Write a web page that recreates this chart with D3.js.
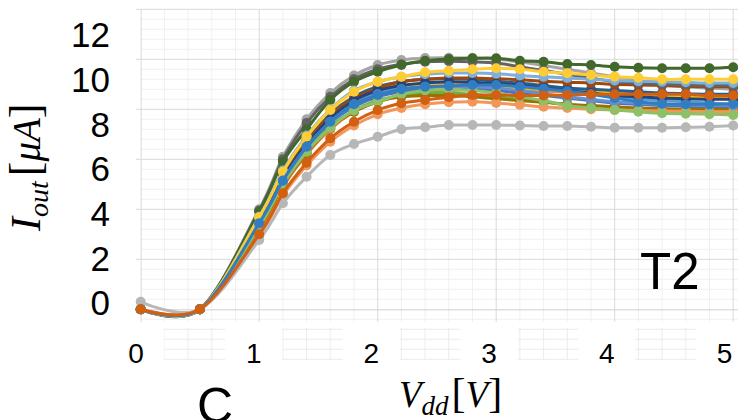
<!DOCTYPE html>
<html>
<head>
<meta charset="utf-8">
<script src="https://cdn.jsdelivr.net/npm/d3@7"></script>
<style>
  body { margin: 0; background: #fff; }
  svg { display: block; }
</style>
</head>
<body>
<svg id="chart" width="738" height="420"></svg>
<script>
// Vdd sweep points (V)
const vdd = [0, 0.5, 1.0, 1.2, 1.4, 1.6, 1.8, 2.0, 2.2, 2.4, 2.6, 2.8, 3.0, 3.2, 3.4, 3.6, 3.8, 4.0, 4.2, 4.4, 4.6, 4.8, 5.0];

// Iout (uA), one array per curve, in drawing order
const iout01 = [0, 0, 3.45, 5.2, 6.6, 7.6, 8.3, 8.7, 8.9, 9.0, 9.05, 9.05, 9.0, 8.9, 8.8, 8.7, 8.6, 8.5, 8.4, 8.35, 8.3, 8.25, 8.2];
const iout02 = [0, 0, 3.2, 4.9, 6.2, 7.2, 7.9, 8.3, 8.55, 8.7, 8.75, 8.78, 8.78, 8.75, 8.72, 8.7, 8.68, 8.65, 8.62, 8.6, 8.58, 8.56, 8.55];
const iout03 = [0, 0, 4.0, 6.1, 7.6, 8.65, 9.35, 9.77, 9.97, 10.05, 10.06, 10.05, 10.0, 9.9, 9.75, 9.6, 9.45, 9.3, 9.15, 9.0, 8.9, 8.85, 8.8];
const iout04 = [0, 0, 3.6, 5.4, 6.8, 7.85, 8.5, 8.8, 8.95, 9.0, 9.0, 8.95, 8.9, 8.85, 8.8, 8.75, 8.7, 8.65, 8.6, 8.55, 8.52, 8.5, 8.5];
const iout05 = [0, 0, 3.4, 5.1, 6.45, 7.45, 8.1, 8.5, 8.7, 8.8, 8.82, 8.8, 8.75, 8.65, 8.55, 8.45, 8.35, 8.25, 8.2, 8.15, 8.12, 8.1, 8.1];
const iout06 = [0, 0, 3.3, 5.0, 6.3, 7.3, 7.95, 8.35, 8.55, 8.65, 8.65, 8.6, 8.5, 8.4, 8.3, 8.2, 8.1, 8.0, 7.95, 7.9, 7.88, 7.85, 7.85];
const iout07 = [0, 0, 3.55, 5.35, 6.75, 7.8, 8.5, 8.9, 9.1, 9.2, 9.22, 9.2, 9.12, 9.05, 8.95, 8.85, 8.8, 8.75, 8.7, 8.65, 8.62, 8.6, 8.6];
const iout08 = [0, 0, 3.5, 5.3, 6.7, 7.75, 8.45, 8.85, 9.1, 9.2, 9.25, 9.25, 9.22, 9.18, 9.12, 9.08, 9.05, 9.0, 8.97, 8.95, 8.92, 8.9, 8.9];
const iout09 = [0, 0, 3.95, 6.0, 7.45, 8.5, 9.2, 9.6, 9.8, 9.9, 9.92, 9.9, 9.85, 9.7, 9.55, 9.4, 9.25, 9.1, 9.05, 9.0, 8.97, 8.95, 8.95];
const iout10 = [0, 0, 3.25, 4.95, 6.25, 7.25, 7.9, 8.3, 8.5, 8.55, 8.55, 8.5, 8.42, 8.35, 8.28, 8.2, 8.15, 8.1, 8.05, 8.02, 8.0, 8.0, 8.0];
const iout11 = [0, 0, 3.5, 5.25, 6.6, 7.65, 8.35, 8.75, 8.95, 9.05, 9.1, 9.08, 9.02, 8.95, 8.85, 8.75, 8.65, 8.55, 8.5, 8.45, 8.42, 8.4, 8.4];
const iout12 = [0, 0, 3.9, 5.9, 7.2, 8.37, 9.1, 9.5, 9.77, 9.94, 10.01, 10.04, 10.04, 9.94, 9.9, 9.81, 9.77, 9.7, 9.66, 9.64, 9.64, 9.64, 9.68];
const iout13 = [0, 0, 3.7, 5.55, 6.95, 8.0, 8.75, 9.1, 9.3, 9.4, 9.45, 9.45, 9.42, 9.35, 9.3, 9.25, 9.2, 9.15, 9.12, 9.1, 9.08, 9.05, 9.05];
const iout14 = [0, 0, 2.95, 4.55, 5.75, 6.7, 7.35, 7.8, 8.05, 8.2, 8.28, 8.3, 8.25, 8.18, 8.1, 8.05, 8.0, 7.97, 7.95, 7.93, 7.92, 7.9, 7.9];
const iout15 = [0.3, 0, 2.77, 4.24, 5.3, 6.17, 6.61, 6.9, 7.2, 7.28, 7.37, 7.37, 7.37, 7.35, 7.33, 7.33, 7.3, 7.26, 7.26, 7.26, 7.28, 7.3, 7.35];
const iout16 = [0, 0, 3.68, 5.5, 6.9, 7.97, 8.7, 9.1, 9.3, 9.48, 9.54, 9.6, 9.64, 9.6, 9.5, 9.44, 9.37, 9.3, 9.26, 9.2, 9.2, 9.2, 9.2];
const iout17 = [0, 0, 3.4, 5.15, 6.5, 7.5, 8.2, 8.6, 8.8, 8.9, 8.92, 8.9, 8.85, 8.75, 8.62, 8.5, 8.4, 8.3, 8.25, 8.2, 8.18, 8.15, 8.15];
const iout18 = [0, 0, 3.3, 5.0, 6.3, 7.25, 7.95, 8.3, 8.6, 8.75, 8.8, 8.75, 8.65, 8.5, 8.35, 8.15, 8.05, 7.97, 7.9, 7.84, 7.82, 7.8, 7.77];
const iout19 = [0, 0, 3.44, 5.14, 6.5, 7.5, 8.2, 8.57, 8.8, 8.9, 8.93, 8.97, 8.97, 8.9, 8.82, 8.72, 8.6, 8.45, 8.3, 8.22, 8.2, 8.2, 8.22];
const iout20 = [0, 0, 3.0, 4.64, 5.86, 6.84, 7.5, 7.97, 8.24, 8.37, 8.48, 8.57, 8.57, 8.55, 8.55, 8.57, 8.6, 8.6, 8.6, 8.6, 8.6, 8.55, 8.55];

const curves = [iout01, iout02, iout03, iout04, iout05, iout06, iout07, iout08, iout09, iout10,
                iout11, iout12, iout13, iout14, iout15, iout16, iout17, iout18, iout19, iout20];
const curveColors = ["#5b9bd5", "#ed7d31", "#a5a5a5", "#ffc000", "#4472c4", "#70ad47", "#255e91", "#9e480e", "#636363", "#997300",
                     "#264478", "#43682b", "#7cafdd", "#f1975a", "#b7b7b7", "#ffcd33", "#698ed0", "#8cc168", "#327dc2", "#d26012"];

const xTickLabels = [0, 1, 2, 3, 4, 5];
const yTickLabels = [0, 2, 4, 6, 8, 10, 12];

const svg = d3.select("#chart");

// plot scales (grid + curves)
const x = d3.scaleLinear().domain([0, 5.05]).range([140.7, 739.1]);
const y = d3.scaleLinear().domain([-0.5, 12]).range([321.8, 9.3]);

// the tick labels sit a little off the grid in the original figure
const xLab = d3.scaleLinear().domain([0, 5]).range([135.5, 724]);
const yLab = d3.scaleLinear().domain([0, 12]).range([303.5, 35.5]);

const minorX = d3.range(1, 26).map(i => i * 0.2).filter(v => Math.abs(v - Math.round(v)) > 1e-6);
const majorX = [1, 2, 3, 4, 5];
const minorY = d3.range(-1, 31).map(i => i * 0.4).filter(v => Math.abs(v / 2 - Math.round(v / 2)) > 1e-6);
const majorY = [2, 4, 6, 8, 10, 12];

const grid = svg.append("g");

grid.selectAll(".hminor").data(minorY).join("line")
  .attr("x1", x(0)).attr("x2", x(5.05))
  .attr("y1", d => y(d)).attr("y2", d => y(d))
  .attr("stroke", "#f0f0f0").attr("stroke-width", 1);

grid.selectAll(".vminor").data(minorX).join("line")
  .attr("x1", d => x(d)).attr("x2", d => x(d))
  .attr("y1", y(12)).attr("y2", y(-0.5))
  .attr("stroke", "#f0f0f0").attr("stroke-width", 1);

grid.selectAll(".vmajor").data(majorX).join("line")
  .attr("x1", d => x(d)).attr("x2", d => x(d))
  .attr("y1", y(12)).attr("y2", y(-0.5))
  .attr("stroke", "#d9d9d9").attr("stroke-width", 1);

grid.selectAll(".hmajor").data(majorY).join("line")
  .attr("x1", x(0) - 5).attr("x2", x(5.05))
  .attr("y1", d => y(d)).attr("y2", d => y(d))
  .attr("stroke", "#d9d9d9").attr("stroke-width", 1);

// leftover grid patches between the x tick labels
const patchY = [-0.8, -1.2, -1.6, -2.0];
const defs = svg.append("defs");
d3.pairs(xTickLabels).forEach(([a, b], i) => {
  defs.append("clipPath").attr("id", "patch" + i)
    .append("rect")
    .attr("x", xLab(a) + 29).attr("width", xLab(b) - xLab(a) - 57)
    .attr("y", y(-0.75)).attr("height", y(-2.05) - y(-0.75));
  const p = grid.append("g").attr("clip-path", `url(#patch${i})`);
  p.selectAll("line.h").data(patchY).join("line")
    .attr("x1", x(0)).attr("x2", x(5.05))
    .attr("y1", d => y(d)).attr("y2", d => y(d))
    .attr("stroke", "#ececec");
  p.selectAll("line.v").data(minorX.concat(majorX)).join("line")
    .attr("x1", d => x(d)).attr("x2", d => x(d))
    .attr("y1", y(-0.75)).attr("y2", y(-2.05))
    .attr("stroke", "#ececec");
});

// axis lines
svg.append("g")
  .attr("transform", `translate(${x(0)},0)`)
  .call(d3.axisLeft(y).tickValues([0]).tickSize(5).tickSizeOuter(0).tickFormat(""))
  .call(g => g.selectAll("path, line").attr("stroke", "#d9d9d9"));

svg.append("g")
  .attr("transform", `translate(0,${y(0)})`)
  .call(d3.axisBottom(x).tickValues([]).tickSizeOuter(0))
  .call(g => g.select("path").attr("stroke", "#d0d0d0"));

// tick labels
svg.append("g")
  .attr("transform", "translate(110,0)")
  .call(d3.axisLeft(yLab).tickValues(yTickLabels).tickSize(0).tickPadding(0).tickFormat(d3.format("d")))
  .call(g => g.select(".domain").remove())
  .call(g => g.selectAll("text")
    .attr("font-family", "Liberation Sans, Arial, sans-serif")
    .attr("font-size", 35).attr("fill", "#000"));

svg.append("g")
  .attr("transform", "translate(0,343)")
  .call(d3.axisBottom(xLab).tickValues(xTickLabels).tickSize(0).tickPadding(0).tickFormat(d3.format("d")))
  .call(g => g.select(".domain").remove())
  .call(g => g.selectAll("text")
    .attr("font-family", "Liberation Sans, Arial, sans-serif")
    .attr("font-size", 28).attr("fill", "#000"));

// curves
const line = d3.line()
  .x((d, i) => x(vdd[i]))
  .y(d => y(d))
  .curve(d3.curveCardinal.tension(0));

curves.forEach((vals, k) => {
  const g = svg.append("g");
  g.append("path")
    .datum(vals)
    .attr("fill", "none")
    .attr("stroke", curveColors[k])
    .attr("stroke-width", 3)
    .attr("stroke-linejoin", "round")
    .attr("d", line);
  g.selectAll("circle").data(vals).join("circle")
    .attr("cx", (d, i) => x(vdd[i]))
    .attr("cy", d => y(d))
    .attr("r", 5)
    .attr("fill", curveColors[k]);
});

// axis titles
const serif = "Liberation Serif, Times New Roman, serif";

const xt = svg.append("text")
  .attr("x", 399).attr("y", 406.5)
  .attr("font-family", serif).attr("fill", "#000");
xt.append("tspan").attr("font-style", "italic").attr("font-size", 37).text("V");
xt.append("tspan").attr("font-style", "italic").attr("font-size", 27).attr("dy", 8).text("dd");
xt.append("tspan").attr("font-size", 42).attr("dy", -8).attr("dx", 3).text("[");
xt.append("tspan").attr("font-style", "italic").attr("font-size", 37).text("V");
xt.append("tspan").attr("font-size", 42).text("]");

const yt = svg.append("text")
  .attr("transform", "translate(40,231) rotate(-90)")
  .attr("font-family", serif).attr("fill", "#000");
yt.append("tspan").attr("font-style", "italic").attr("font-size", 42).text("I");
yt.append("tspan").attr("font-style", "italic").attr("font-size", 28).attr("dy", 8).text("out");
yt.append("tspan").attr("font-size", 44).attr("dy", -8).attr("dx", 5).text("[");
yt.append("tspan").attr("font-style", "italic").attr("font-size", 39).text("μA");
yt.append("tspan").attr("font-size", 44).text("]");

// panel annotations
svg.append("text")
  .attr("x", 640).attr("y", 288.5)
  .attr("font-family", "Liberation Sans, Arial, sans-serif")
  .attr("font-size", 51).attr("fill", "#000")
  .text("T2");

svg.append("text")
  .attr("x", 197).attr("y", 423)
  .attr("font-family", "Liberation Sans, Arial, sans-serif")
  .attr("font-size", 50).attr("fill", "#000")
  .text("C");
</script>
</body>
</html>
